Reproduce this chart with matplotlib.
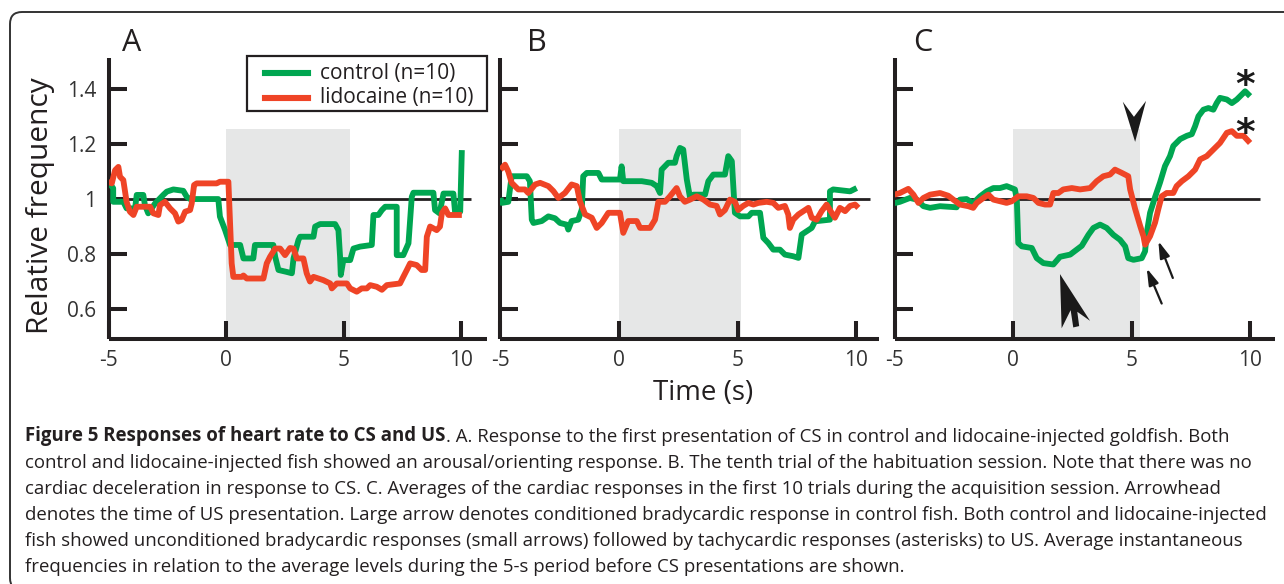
import matplotlib
matplotlib.use('Agg')
import matplotlib.pyplot as plt
from matplotlib.transforms import IdentityTransform
from matplotlib.patches import Rectangle, FancyBboxPatch, Polygon
from matplotlib.lines import Line2D

plt.rcParams['font.family'] = ['Open Sans', 'DejaVu Sans']

# ---------------- data (time in s, relative frequency) ----------------
ctrl_A_t = [-5.0, -4.8, -4.8, -4.37, -4.23, -3.87, -3.8, -3.52, -3.45, -3.31, -3.02, -2.67, -2.52, -2.24, -1.82,
            -1.67, -1.53, -0.33, -0.26, -0.04, 0.17, 0.6, 0.74, 1.16, 1.23, 2.01, 2.09, 2.23, 2.58, 2.8, 2.87,
            3.08, 3.15, 3.72, 3.79, 4.0, 4.64, 4.78, 4.85, 4.88, 4.99, 5.28, 5.42, 5.7, 6.2, 6.27, 6.48, 6.63,
            6.77, 7.26, 7.26, 7.54, 7.76, 7.9, 7.97, 8.82, 8.89, 9.08, 9.25, 9.67, 9.74, 9.96, 10.03]
ctrl_A_v = [1.063, 1.039, 0.99, 0.99, 0.966, 0.966, 1.015, 1.015, 0.978, 0.948, 0.984, 1.015, 1.027, 1.035, 1.03,
            1.008, 1.0, 1.0, 0.936, 0.887, 0.833, 0.833, 0.784, 0.784, 0.833, 0.833, 0.79, 0.742, 0.735, 0.73, 0.784,
            0.851, 0.863, 0.863, 0.9, 0.909, 0.909, 0.887, 0.79, 0.724, 0.778, 0.778, 0.82, 0.827, 0.833, 0.942, 0.942, 0.96,
            0.972, 0.972, 0.796, 0.796, 0.839, 1.008, 1.023, 1.023, 0.96, 0.948, 1.02, 1.02, 0.954, 0.954, 1.178]

lido_A_t = [-5.0, -4.86, -4.72, -4.58, -4.51, -4.37, -4.23, -4.09, -3.94, -3.8, -3.23, -3.09, -2.88, -2.81, -2.6,
            -2.38, -2.17, -2.03, -1.89, -1.74, -1.53, -1.46, -1.36, -1.25, -0.4, -0.26, 0.1, 0.24, 0.31, 0.67, 0.74,
            0.88, 1.59, 1.73, 1.87, 2.09, 2.3, 2.51, 2.72, 2.87, 3.01, 3.29, 3.43, 3.57, 3.72, 4.14, 4.43, 4.5, 4.71,
            5.14, 5.28, 5.56, 5.77, 5.99, 6.13, 6.41, 6.63, 6.84, 7.4, 7.54, 7.69, 7.83, 8.11, 8.32, 8.47, 8.54, 8.68,
            8.96, 9.1, 9.18, 9.32, 9.46, 10.03]
lido_A_v = [1.063, 1.057, 1.105, 1.117, 1.081, 1.069, 0.99, 0.954, 0.942, 0.972, 0.972, 0.948, 0.942, 0.978, 0.99,
            0.966, 0.948, 0.918, 0.924, 0.954, 0.96, 0.984, 1.051, 1.057, 1.057, 1.063, 1.063, 0.766, 0.717, 0.717, 0.722,
            0.711, 0.711, 0.766, 0.79, 0.82, 0.82, 0.796, 0.822, 0.82, 0.784, 0.784, 0.73, 0.7, 0.717, 0.705, 0.693, 0.675, 0.693,
            0.693, 0.675, 0.663, 0.675, 0.675, 0.687, 0.681, 0.67, 0.687, 0.693, 0.717, 0.742, 0.766, 0.76, 0.742, 0.742, 0.863, 0.9,
            0.887, 0.9, 0.948, 0.966, 0.942, 0.942]

ctrl_B_t = [-5.0, -4.95, -4.67, -4.53, -3.89, -3.76, -3.68, -3.61, -3.26, -2.98, -2.7, -2.49, -2.21, -2.14, -2.0,
            -1.72, -1.57, -1.51, -1.36, -0.87, -0.73, 0.04, 0.11, 0.18, 0.96, 1.38, 1.59, 1.73, 1.8, 2.08, 2.36, 2.43,
            2.57, 2.71, 2.86, 3.0, 3.14, 3.63, 3.77, 3.98, 4.47, 4.61, 4.76, 4.89, 5.11, 5.46, 5.6, 5.95, 6.09, 6.3,
            6.51, 6.79, 7.0, 7.35, 7.57, 7.71, 7.92, 8.13, 8.27, 8.9, 8.9, 9.04, 9.75, 10.03]
ctrl_B_v = [1.004, 0.986, 0.99, 1.083, 1.083, 1.065, 0.925, 0.913, 0.92, 0.937, 0.93, 0.913, 0.907, 0.889, 0.92,
            0.925, 0.962, 1.083, 1.095, 1.095, 1.071, 1.071, 1.119, 1.065, 1.065, 1.059, 1.047, 1.022, 1.107, 1.132, 1.132, 1.156,
            1.186, 1.18, 1.071, 1.004, 1.016, 1.016, 1.065, 1.089, 1.089, 1.156, 1.138, 0.95, 0.937, 0.937, 0.95, 0.95, 0.859, 0.84,
            0.816, 0.816, 0.798, 0.792, 0.786, 0.871, 0.883, 0.895, 0.919, 0.925, 1.028, 1.035, 1.028, 1.04]

lido_B_t = [-5.0, -4.81, -4.67, -4.53, -4.25, -3.97, -3.83, -3.54, -3.33, -2.98, -2.77, -2.56, -2.28, -2.0, -1.78,
            -1.65, -1.43, -1.15, -0.94, -0.73, -0.45, 0.04, 0.18, 0.39, 0.75, 0.89, 1.31, 1.52, 1.66, 1.94, 2.15, 2.43,
            2.57, 2.78, 3.0, 3.28, 3.56, 3.84, 4.12, 4.26, 4.47, 4.68, 4.89, 5.03, 5.24, 5.46, 5.67, 5.88, 6.23, 6.51,
            6.72, 7.0, 7.14, 7.21, 7.35, 7.57, 7.85, 7.99, 8.13, 8.34, 8.55, 8.76, 8.9, 9.11, 9.32, 9.54, 9.75, 9.96, 10.1]
lido_B_v = [1.107, 1.125, 1.1, 1.059, 1.035, 1.035, 1.022, 1.053, 1.059, 1.047, 1.029, 1.004, 1.022, 1.053, 1.047,
            0.992, 0.944, 0.932, 0.895, 0.913, 0.95, 0.95, 0.877, 0.92, 0.92, 0.895, 0.895, 0.925, 0.99, 0.99, 1.01, 1.04,
            1.01, 0.99, 0.998, 1.01, 0.998, 0.98, 0.975, 0.944, 0.96, 0.998, 0.99, 0.96, 0.975, 0.986, 0.98, 0.986, 0.99, 0.986,
            0.968, 0.975, 0.944, 0.895, 0.925, 0.944, 0.96, 0.968, 0.932, 0.925, 0.956, 0.98, 0.96, 0.932, 0.968, 0.956, 0.975, 0.98, 0.968]

ctrl_C_t = [-5.0, -4.77, -4.35, -4.06, -3.78, -3.5, -3.08, -2.38, -2.24, -1.96, -1.68, -1.39, -1.11, -0.83, -0.55,
            -0.27, 0.08, 0.16, 0.22, 0.37, 0.79, 1.0, 1.28, 1.7, 1.98, 2.41, 2.9, 3.18, 3.39, 3.67, 3.95, 4.23, 4.51,
            4.73, 4.86, 5.08, 5.43, 5.57, 5.64, 5.78, 5.99, 6.2, 6.41, 6.62, 6.76, 7.05, 7.33, 7.54, 7.68, 7.82, 8.03,
            8.24, 8.45, 8.59, 8.73, 9.02, 9.23, 9.44, 9.65, 9.79, 10.0]
ctrl_C_v = [0.985, 0.99, 1.004, 0.998, 0.974, 0.968, 0.974, 0.97, 0.998, 1.0, 0.985, 1.01, 1.028, 1.04, 1.04,
            1.047, 1.035, 0.998, 0.84, 0.828, 0.822, 0.785, 0.767, 0.762, 0.79, 0.798, 0.83, 0.87, 0.895, 0.907, 0.895, 0.87, 0.852,
            0.828, 0.785, 0.779, 0.785, 0.81, 0.876, 0.95, 1.007, 1.06, 1.12, 1.156, 1.193, 1.218, 1.23, 1.236, 1.265, 1.301, 1.325,
            1.331, 1.325, 1.349, 1.368, 1.362, 1.349, 1.362, 1.38, 1.392, 1.374]

lido_C_t = [-5.0, -4.77, -4.42, -4.2, -3.99, -3.78, -3.5, -3.08, -2.73, -2.52, -2.24, -1.89, -1.68, -1.53, -1.25,
            -1.04, -0.83, -0.55, -0.27, -0.05, 0.22, 0.58, 0.86, 1.07, 1.35, 1.56, 1.7, 1.91, 2.12, 2.48, 2.83, 3.25,
            3.53, 3.81, 4.09, 4.3, 4.59, 4.86, 4.94, 5.15, 5.36, 5.5, 5.57, 5.78, 5.99, 6.13, 6.27, 6.48, 6.76, 6.9,
            7.12, 7.4, 7.68, 7.89, 8.17, 8.45, 8.73, 9.02, 9.23, 9.44, 9.72, 10.0]
lido_C_v = [1.016, 1.022, 1.037, 1.016, 0.986, 1.004, 1.016, 1.022, 1.012, 0.998, 0.98, 0.974, 0.968, 0.986, 1.004,
            1.016, 0.998, 0.992, 0.986, 0.992, 1.01, 1.01, 1.004, 0.986, 0.98, 0.98, 1.022, 1.022, 1.035, 1.04, 1.035, 1.04,
            1.065, 1.083, 1.089, 1.107, 1.095, 1.083, 1.035, 0.964, 0.903, 0.865, 0.834, 0.865, 0.914, 0.964, 1.01, 1.022, 1.022, 1.047,
            1.065, 1.083, 1.107, 1.144, 1.156, 1.18, 1.204, 1.241, 1.247, 1.23, 1.23, 1.204]

panel_labels = ['A', 'B', 'C']
series_labels = ['control (n=10)', 'lidocaine (n=10)']
xtick_vals = [-5, 0, 5, 10]
xtick_labels = ['-5', '0', '5', '10']
ytick_vals = [0.6, 0.8, 1.0, 1.2, 1.4]
ytick_labels = ['0.6', '0.8', '1', '1.2', '1.4']
cs_end = [5.28, 5.15, 5.36]
cs_top = 1.255
baseline_end = [10.4, 10.6, 10.4]

GREEN = '#00a651'
RED = '#ef4426'
INK = '#231f20'
SHADE = '#e6e7e7'

caption_bold = 'Figure 5 Responses of heart rate to CS and US'
caption_lines = [
    '. A. Response to the first presentation of CS in control and lidocaine-injected goldfish. Both',
    'control and lidocaine-injected fish showed an arousal/orienting response. B. The tenth trial of the habituation session. Note that there was no',
    'cardiac deceleration in response to CS. C. Averages of the cardiac responses in the first 10 trials during the acquisition session. Arrowhead',
    'denotes the time of US presentation. Large arrow denotes conditioned bradycardic response in control fish. Both control and lidocaine-injected',
    'fish showed unconditioned bradycardic responses (small arrows) followed by tachycardic responses (asterisks) to US. Average instantaneous',
    'frequencies in relation to the average levels during the 5-s period before CS presentations are shown.',
]

# ---------------- layout ----------------
W, H = 1284, 584
fig = plt.figure(figsize=(W / 100, H / 100), dpi=100)
ID = IdentityTransform()


def P(px, py):
    return (px, H - py)


# panel geometry in pixels: (left px, right px, top px, bottom px, xmax)
geo = [(108.5, 487, 58, 339, 11.1),
       (500.5, 879, 58, 339, 10.97),
       (894.5, 1275, 58, 339, 11.05)]
YLIM = (0.491, 1.513)

data = [(ctrl_A_t, ctrl_A_v, lido_A_t, lido_A_v),
        (ctrl_B_t, ctrl_B_v, lido_B_t, lido_B_v),
        (ctrl_C_t, ctrl_C_v, lido_C_t, lido_C_v)]

axes = []
for i, (l, r, t, b, xmax) in enumerate(geo):
    ax = fig.add_axes([l / W, (H - b) / H, (r - l) / W, (b - t) / H])
    ax.set_xlim(-5, xmax)
    ax.set_ylim(*YLIM)
    ax.patch.set_alpha(0)
    for s in ['top', 'right']:
        ax.spines[s].set_visible(False)
    for s in ['left', 'bottom']:
        ax.spines[s].set_linewidth(2.9)
        ax.spines[s].set_color(INK)
        ax.spines[s].set_capstyle('butt')
    ax.set_xticks(xtick_vals)
    ax.set_xticklabels(xtick_labels)
    ax.set_yticks(ytick_vals)
    ax.set_yticklabels(ytick_labels if i == 0 else [])
    ax.tick_params(axis='both', direction='in', length=13, width=2.9, color=INK,
                   labelsize=15, labelcolor='#333333')
    ax.tick_params(axis='x', pad=8)
    ax.tick_params(axis='y', pad=9)

    frac = (cs_top - YLIM[0]) / (YLIM[1] - YLIM[0])
    ax.axvspan(0, cs_end[i], ymin=0, ymax=frac, color=SHADE, lw=0, zorder=0)
    ax.hlines(1.0, -5, baseline_end[i], color=INK, lw=2.0, zorder=1)

    ct, cv, lt, lv = data[i]
    ax.plot(ct, cv, color=GREEN, lw=4.2, solid_joinstyle='round', solid_capstyle='butt', zorder=3,
            label=series_labels[0])
    ax.plot(lt, lv, color=RED, lw=4.2, solid_joinstyle='round', solid_capstyle='butt', zorder=4,
            label=series_labels[1])
    axes.append(ax)

# panel letters
for lab, px in zip(panel_labels, [132, 537, 923]):
    fig.text(*P(px, 43), lab, transform=ID, ha='center', va='center', fontsize=22, color='#231f20')

# axis titles
fig.text(*P(41, 206), 'Relative frequency', transform=ID, rotation=90, ha='center', va='center',
         fontsize=21.5, color='#231f20')
fig.text(*P(703, 400), 'Time (s)', transform=ID, ha='center', va='baseline', fontsize=20, color='#231f20')

# legend (manual, pixel placed)
fig.add_artist(Rectangle(P(247, 111), 240, 55, transform=ID, fill=False, lw=1.6, edgecolor=INK))
for j, (col, lab) in enumerate(zip([GREEN, RED], series_labels)):
    yl = 73 + 24.5 * j
    fig.add_artist(Line2D([265, 308], [H - yl, H - yl], transform=ID, color=col, lw=4.4))
    fig.text(*P(320, yl + 5.5), lab, transform=ID, ha='left', va='baseline', fontsize=15, color='#231f20')

# annotations in panel C
axC = axes[2]
axC.add_patch(Polygon([(5.15, 1.208), (4.63, 1.354), (5.1, 1.299), (5.61, 1.357)], closed=True,
                      facecolor='#1a1a1a', edgecolor='none', zorder=6, clip_on=False))
axC.add_patch(Polygon([(1.98, 0.727), (3.25, 0.557), (2.71, 0.59), (2.79, 0.538), (2.54, 0.533),
                       (2.43, 0.596), (2.05, 0.53)], closed=True,
                      facecolor='#1a1a1a', edgecolor='none', zorder=6, clip_on=False))
for tip, tail in [((5.64, 0.748), (6.27, 0.62)), ((6.13, 0.847), (6.74, 0.713))]:
    axC.annotate('', xy=tip, xytext=tail,
                 arrowprops=dict(arrowstyle='-|>,head_length=1.0,head_width=0.3', lw=1.6,
                                 color='#1a1a1a', shrinkA=0, shrinkB=0), zorder=6)
for yv in [1.375, 1.2]:
    axC.text(9.79, yv, '*', ha='center', va='baseline', fontsize=27, fontweight='bold',
             family=['DejaVu Sans'], color='#1a1a1a', zorder=7, clip_on=False)

# rounded frame
fig.add_artist(FancyBboxPatch((10, -6), 1300, H - 12 + 6, boxstyle='round,pad=0,rounding_size=12',
                              transform=ID, fill=False, lw=1.4, edgecolor='#333333'))

# caption, fitted to the reference width of its 4th line
renderer = fig.canvas.get_renderer()
s0 = 13.0
tm = fig.text(0, 0, caption_lines[3], transform=ID, fontsize=s0)
w0 = tm.get_window_extent(renderer).width
tm.remove()
fs = s0 * 1240.0 / w0
x0 = 25
for k, line in enumerate(caption_lines):
    yb = 441.5 + 26.1 * k
    if k == 0:
        t1 = fig.text(*P(x0, yb), caption_bold, transform=ID, fontsize=fs, fontweight='bold',
                      va='baseline', ha='left', color='#231f20')
        wb = t1.get_window_extent(renderer).width
        fig.text(*P(x0 + wb, yb), line, transform=ID, fontsize=fs, va='baseline', ha='left',
                 color='#231f20')
    else:
        fig.text(*P(x0, yb), line, transform=ID, fontsize=fs, va='baseline', ha='left', color='#231f20')

fig.savefig('out.png', dpi=100)
